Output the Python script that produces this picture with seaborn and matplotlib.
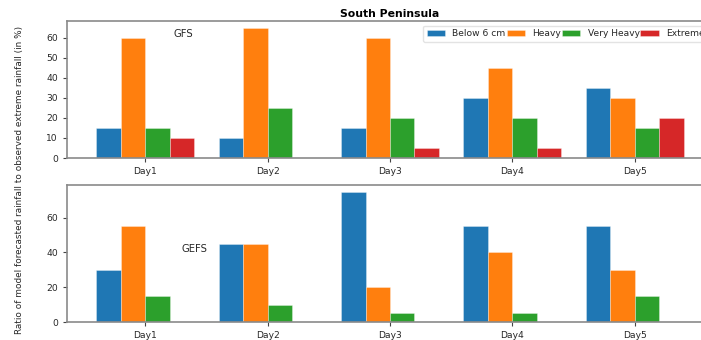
import matplotlib
matplotlib.use("Agg")
import matplotlib.pyplot as plt
import seaborn as sns
import pandas as pd

days = ["Day1", "Day2", "Day3", "Day4", "Day5"]
categories = ["Below 6 cm", "Heavy", "Very Heavy", "Extreme"]
colors = ["#1f77b4", "#ff7f0e", "#2ca02c", "#d62728"]

gfs_below6 = [15, 10, 15, 30, 35]
gfs_heavy = [60, 65, 60, 45, 30]
gfs_veryheavy = [15, 25, 20, 20, 15]
gfs_extreme = [10, 0, 5, 5, 20]

gefs_below6 = [30, 45, 75, 55, 55]
gefs_heavy = [55, 45, 20, 40, 30]
gefs_veryheavy = [15, 10, 5, 5, 15]
gefs_extreme = [0, 0, 0, 0, 0]


def make_df(series):
    rows = []
    for cat, vals in zip(categories, series):
        for d, v in zip(days, vals):
            rows.append({"Day": d, "Category": cat, "Value": v})
    return pd.DataFrame(rows)


df_gfs = make_df([gfs_below6, gfs_heavy, gfs_veryheavy, gfs_extreme])
df_gefs = make_df([gefs_below6, gefs_heavy, gefs_veryheavy, gefs_extreme])

plt.rcParams["font.family"] = ["DejaVu Sans"]
fs = 6.6
text_col = "#262626"
spine_col = "#8a8a8a"

fig = plt.figure(figsize=(7.01, 3.40), dpi=100)
W, H = 701.0, 340.0
left = 67 / W
right = 713 / W
ax1 = fig.add_axes([left, 1 - 158 / H, right - left, (158 - 21) / H])
ax2 = fig.add_axes([left, 1 - 322 / H, right - left, (322 - 185) / H])

for ax, df in [(ax1, df_gfs), (ax2, df_gefs)]:
    sns.barplot(data=df, x="Day", y="Value", hue="Category", hue_order=categories,
                order=days, palette=colors, ax=ax, edgecolor=(1, 1, 1, 0.55),
                linewidth=0.4, saturation=1, errorbar=None)
    ax.set_xlim(-0.64, 4.64)
    ax.set_xlabel("")
    ax.set_ylabel("")
    for s in ax.spines.values():
        s.set_color(spine_col)
        s.set_linewidth(1.2)
    ax.tick_params(labelsize=fs, colors=text_col, length=3, width=0.8)
    ax.tick_params(axis="both", color="#444444")

ax1.set_ylim(0, 68.25)
ax1.set_yticks([0, 10, 20, 30, 40, 50, 60])
ax2.set_ylim(0, 78.75)
ax2.set_yticks([0, 20, 40, 60])

h, l = ax1.get_legend_handles_labels()
ax1.legend(h, l, ncol=4, loc="upper right", fontsize=fs, columnspacing=0.1,
           frameon=True, edgecolor="#dddddd", labelcolor=text_col)
if ax2.get_legend() is not None:
    ax2.get_legend().remove()

ax1.text(0.31, 62, "GFS", ha="center", va="center", fontsize=7.2, color=text_col)
ax2.text(0.4, 42, "GEFS", ha="center", va="center", fontsize=7.2, color=text_col)

ax1.set_title("South Peninsula", fontsize=7.8, fontweight="bold", color="black", pad=3)

fig.text(20 / W, 1 - 180 / H,
         "Ratio of model forecasted rainfall to observed extreme rainfall (in %)",
         rotation=90, ha="center", va="center", fontsize=6.4, color=text_col)

fig.savefig("out.png", dpi=100)
